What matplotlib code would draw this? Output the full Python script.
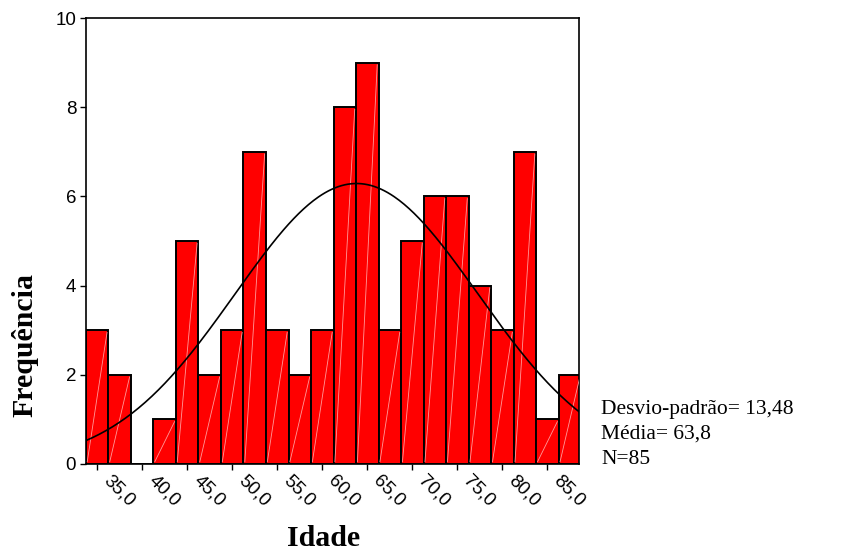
import numpy as np
import matplotlib.pyplot as plt
from matplotlib.transforms import ScaledTranslation

# Histograma da idade (estilo SPSS)
bin_centers = [35.0, 37.5, 40.0, 42.5, 45.0, 47.5, 50.0, 52.5, 55.0, 57.5, 60.0,
               62.5, 65.0, 67.5, 70.0, 72.5, 75.0, 77.5, 80.0, 82.5, 85.0, 87.5]
counts = [3, 2, 0, 1, 5, 2, 3, 7, 3, 2, 3, 8, 9, 3, 5, 6, 6, 4, 3, 7, 1, 2]
tick_values = [35, 40, 45, 50, 55, 60, 65, 70, 75, 80, 85]
tick_labels = ['35,0', '40,0', '45,0', '50,0', '55,0', '60,0', '65,0', '70,0', '75,0', '80,0', '85,0']
y_ticks = [0, 2, 4, 6, 8, 10]

media = 63.8
desvio = 13.48
n_total = 85
largura = 2.5

fig = plt.figure(figsize=(8.42, 5.54), dpi=100)
ax = fig.add_axes([0.102, 0.1625, 0.5856, 0.805])

ax.bar(bin_centers, counts, width=largura, color='#ff0000', edgecolor='black', linewidth=1.4, zorder=2)

# linha diagonal clara dentro de cada barra
for c, h in zip(bin_centers, counts):
    if h > 0:
        ax.plot([c - largura / 2 + 0.15, c + largura / 2 - 0.15], [0.05, h - 0.05],
                color='#ff9a9a', linewidth=0.6, zorder=3)

# curva normal ajustada
xs = np.linspace(33.75, 88.5, 300)
ys = n_total * largura / (desvio * np.sqrt(2 * np.pi)) * np.exp(-0.5 * ((xs - media) / desvio) ** 2)
ax.plot(xs, ys, color='black', linewidth=1.2, zorder=4)

ax.set_xlim(33.75, 88.5)
ax.set_ylim(0, 10)
ax.tick_params(axis='both', direction='out', length=4, width=1, pad=3)
ax.tick_params(axis='x', pad=6)
ax.set_yticks(y_ticks)
ax.set_yticklabels([str(v) for v in y_ticks], fontsize=13.5, family='Liberation Sans')
ax.set_xticks(tick_values)
ax.set_xticklabels(tick_labels, fontsize=13.5, family='Liberation Sans',
                   rotation=-45, ha='left', va='center', rotation_mode='anchor')
# deslocar os rótulos do eixo x para a direita (depois de tick_params)
for lab in ax.get_xticklabels():
    lab.set_transform(lab.get_transform() + ScaledTranslation(0.09, 0.0, fig.dpi_scale_trans))
for s in ax.spines.values():
    s.set_linewidth(1.2)

fig.text(25 / 842, 1 - 345 / 554, 'Frequência', rotation=90, fontsize=21.5, fontweight='bold',
         family='Liberation Serif', ha='center', va='center')
fig.text(324 / 842, 1 - 546 / 554, 'Idade', fontsize=21.5, fontweight='bold',
         family='Liberation Serif', ha='center', va='baseline')

fig.text(601 / 842, 1 - 414 / 554, 'Desvio-padrão= 13,48', fontsize=15.5, family='Liberation Serif', va='baseline')
fig.text(601 / 842, 1 - 439 / 554, 'Média= 63,8', fontsize=15.5, family='Liberation Serif', va='baseline')
fig.text(601 / 842, 1 - 464 / 554, 'N=85', fontsize=15.5, family='Liberation Serif', va='baseline')

fig.savefig('out.png', dpi=100)
